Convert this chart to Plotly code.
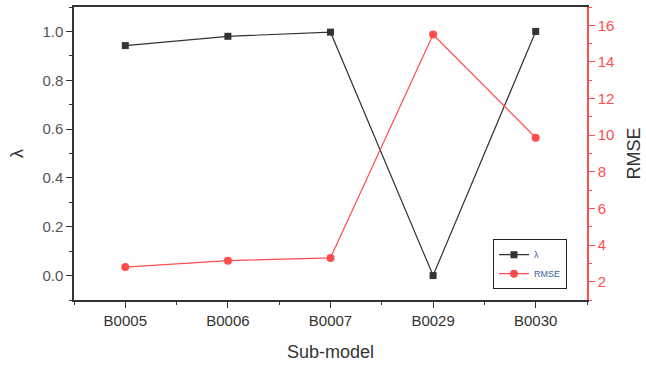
import plotly.graph_objects as go

categories = ["B0005", "B0006", "B0007", "B0029", "B0030"]
lambda_vals = [0.942, 0.98, 0.997, 0.0, 1.0]
rmse_vals = [2.8, 3.15, 3.3, 15.5, 9.86]

xpos = list(range(len(categories)))
red = "#ff4d4d"
dark = "#333333"

fig = go.Figure()
fig.add_trace(go.Scatter(x=xpos, y=lambda_vals, name="λ", mode="lines+markers",
                         line=dict(color=dark, width=1.2),
                         marker=dict(symbol="square", size=7, color=dark)))
fig.add_trace(go.Scatter(x=xpos, y=rmse_vals, name="RMSE", mode="lines+markers",
                         line=dict(color=red, width=1.2),
                         marker=dict(symbol="circle", size=8, color=red),
                         yaxis="y2"))

fnt = "Liberation Sans, Arial, sans-serif"
fig.update_layout(
    width=646, height=371,
    margin=dict(l=74, r=59, t=5, b=71),
    plot_bgcolor="white", paper_bgcolor="white",
    font=dict(family=fnt, size=14, color="#444"),
    showlegend=True,
    legend=dict(x=0.961, y=0.037, xanchor="right", yanchor="bottom",
                bordercolor="#222", borderwidth=1, bgcolor="white",
                font=dict(size=9, color="#3a5fa0"), tracegroupgap=0,
                itemwidth=30),
    xaxis=dict(range=[-0.5, 4.5], tickvals=xpos, ticktext=categories,
               showline=True, linecolor="#333", linewidth=1.5, mirror=True,
               ticks="outside", ticklen=6, tickcolor="#333", showgrid=False,
               zeroline=False,
               tickfont=dict(size=15, color="#333"),
               minor=dict(tick0=0.5, dtick=1, ticks="outside", ticklen=3, tickcolor="#333"),
               title=dict(text="Sub-model", font=dict(size=18, color="#333"), standoff=18)),
    yaxis=dict(range=[-0.1, 1.1], tick0=0, dtick=0.2, tickformat=".1f",
               showline=True, linecolor="#333", linewidth=1.5,
               ticks="outside", ticklen=6, tickcolor="#333", showgrid=False,
               zeroline=False,
               tickfont=dict(size=15, color="#555"),
               minor=dict(dtick=0.1, ticks="outside", ticklen=3, tickcolor="#333"),
               title=dict(text="λ", font=dict(size=18, color="#333"), standoff=14)),
    yaxis2=dict(range=[1, 17], tick0=2, dtick=2, overlaying="y", side="right",
                showline=True, linecolor=red, linewidth=1.5,
                ticks="outside", ticklen=6, tickcolor=red, showgrid=False,
                zeroline=False,
                tickfont=dict(size=15, color=red),
                minor=dict(dtick=1, ticks="outside", ticklen=3, tickcolor=red),
                title=dict(text="RMSE", font=dict(size=18, color="#333"), standoff=14)),
)

fig.write_html("out.html")
